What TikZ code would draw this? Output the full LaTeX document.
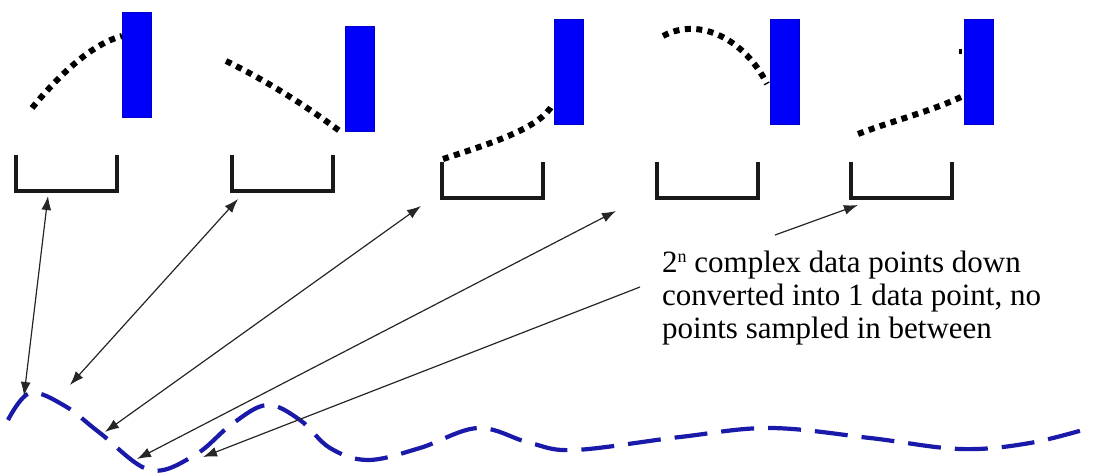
\documentclass[tikz,border=0pt]{standalone}
\usepackage{fontspec}
\setmainfont{Liberation Serif}
\usetikzlibrary{arrows.meta}
\definecolor{wavecol}{RGB}{25,25,170}
\definecolor{barblue}{RGB}{0,0,250}
\tikzset{
  bar/.style={draw=barblue!80!black, line width=0.8pt, fill=barblue, minimum width=29pt, minimum height=105pt, inner sep=0pt},
  bracket/.style={draw=black!90, line width=3.2pt, line cap=butt, line join=miter},
  dotline/.style={draw=black, line width=6pt, dash pattern=on 6pt off 5.5pt},
  conn/.style={draw=black!85, line width=1.2pt},
  dbl/.style={conn, {Latex[length=14pt,width=10pt]}-{Latex[length=14pt,width=10pt]}},
  sgl/.style={conn, -{Latex[length=14pt,width=10pt]}},
  wave/.style={draw=wavecol, line width=4.2pt, dash pattern=on 33pt off 14pt},
  label/.style={anchor=north west, align=left, inner sep=0pt, font=\fontsize{31}{33}\selectfont}
}
\begin{document}
\begin{tikzpicture}[x=1pt,y=-1pt]
\useasboundingbox (0,0) rectangle (1096,472);

% blue bars
\node[bar] (b1) at (136.5,64.5) {};
\node[bar] (b2) at (360,78.5) {};
\node[bar] (b3) at (568.5,71.5) {};
\node[bar] (b4) at (785,71.5) {};
\node[bar] (b5) at (978.5,71.5) {};

% brackets
\draw[bracket] (16,155) -- (16,191) -- (117,191) -- (117,155);
\draw[bracket] (232,155) -- (232,191) -- (333,191) -- (333,155);
\draw[bracket] (442,162) -- (442,198) -- (543,198) -- (543,162);
\draw[bracket] (657,162) -- (657,198) -- (758,198) -- (758,162);
\draw[bracket] (851,162) -- (851,198) -- (952,198) -- (952,162);

% dotted curves
\draw[dotline] (32,108) .. controls (60,74) and (92,44) .. (122,36);
\draw[dotline] (226,61) .. controls (265,80) and (305,105) .. (341,132);
\draw[dotline] (443,159) .. controls (495,142) and (540,128) .. (553,104);
\draw[dotline] (663,36) .. controls (700,16) and (745,40) .. (767,84);
\draw[dotline] (858,134) .. controls (895,120) and (935,110) .. (963,96);
\fill (959,49) rectangle (962,54);

% wave
\draw[wave] plot[smooth, tension=0.6] coordinates {(8,420) (30,393) (65,406) (100,433) (150,470) (195,455) (232,424) (267,405) (300,420) (330,448) (368,460) (420,448) (478,428) (530,443) (575,450) (680,437) (770,428) (870,438) (960,449) (1030,443) (1093,427)};

% arrow end points
\coordinate (a1t) at (48,196);  \coordinate (a1b) at (24,396);
\coordinate (a2t) at (238,199); \coordinate (a2b) at (70,385);
\coordinate (a3t) at (421,206); \coordinate (a3b) at (105,432);
\coordinate (a4t) at (616,211); \coordinate (a4b) at (137,459);
\coordinate (a5s) at (640,287); \coordinate (a5b) at (203,457);
\coordinate (a6s) at (775,235); \coordinate (a6t) at (858,205);

\draw[dbl] (a1t) -- (a1b);
\draw[dbl] (a2t) -- (a2b);
\draw[dbl] (a3t) -- (a3b);
\draw[dbl] (a4t) -- (a4b);
\draw[sgl] (a5s) -- (a5b);
\draw[sgl] (a6s) -- (a6t);

% text
\node[label] (txt) at (662,251) {2\raisebox{10pt}{\fontsize{18}{18}\selectfont n} complex data points down\\converted into 1 data point, no\\points sampled in between};
\end{tikzpicture}
\end{document}
